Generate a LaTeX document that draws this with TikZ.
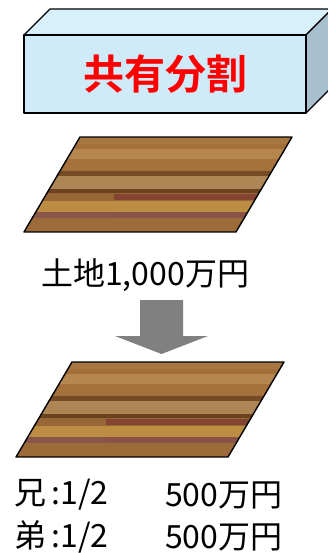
\documentclass[tikz,border=0pt]{standalone}
\usepackage{fontspec}
\setmainfont{Noto Sans CJK JP}
\newfontfamily\gothic{Noto Sans CJK JP}
\newfontfamily\gothicbold{Noto Sans CJK JP Bold}
\definecolor{boxfront}{HTML}{CFEBFA}
\definecolor{boxtop}{HTML}{D8F0FC}
\definecolor{boxside}{HTML}{A7BFCE}
\definecolor{woodbase}{HTML}{A3703C}
\definecolor{woodlight}{HTML}{B5874F}
\definecolor{woodtan}{HTML}{AE8656}
\definecolor{wooddark}{HTML}{6A4220}
\definecolor{woodred}{HTML}{7E3D30}
\definecolor{woodgold}{HTML}{BC8D42}
\definecolor{woodplum}{HTML}{8A564A}
\definecolor{arrowgray}{HTML}{808080}
\tikzset{
  >=latex,
  {box edge/.style} ={draw=black,line width=1.3pt,line join=round},
  {plank edge/.style} ={draw=black,line width=1.4pt,line join=round},
  {title/.style} ={text=red,font=\gothicbold\fontsize{41}{41}\selectfont,inner sep=0},
  {label/.style} ={text=black,font=\gothic\fontsize{32}{32}\selectfont,inner sep=0},
  % a board of wood seen from above, origin at its lower left corner
  plank/.pic={
    \begin{scope}
      \clip (0,0) -- (56,-95) -- (268,-95) -- (212,0) -- cycle;
      \fill[woodbase] (0,0) rectangle (268,-95);
      \foreach \a/\b/\col in {12/22/woodlight,22/32/woodbase!90!woodlight,
                              34/39/wooddark!80!woodbase,39/52/woodtan,
                              52/56/wooddark,56/64/woodbase!80!wooddark,
                              64/75/woodgold,75/81/woodplum,81/95/woodbase!88!wooddark}
        \fill[\col] (0,-95+\a) rectangle (268,-95+\b);
      \fill[woodred,opacity=.8] (90,-38) rectangle (268,-32);
      \fill[woodplum!80!woodred,opacity=.7] (90,-20) rectangle (268,-15);
      \fill[woodlight,opacity=.35] (0,-95) rectangle (268,-88);
    \end{scope}
    \draw[plank edge] (0,0) -- (56,-95) -- (268,-95) -- (212,0) -- cycle;
  },
}

\begin{document}
\begin{tikzpicture}[x=1pt,y=-1pt]
\useasboundingbox (0,0) rectangle (327,553);
% the box with the title
\path[box edge,fill=boxtop] (24,35) -- (50,9) -- (332,9) -- (306,35) -- cycle;
\path[box edge,fill=boxside] (306,35) -- (332,9) -- (332,87) -- (306,113) -- cycle;
\path[box edge,fill=boxfront] (24,35) rectangle (306,113);
\node[title] (bunkatsu) at (165,74) {共有分割};

% land before the split
\pic (land) at (24,232) {plank};
\node[label,anchor=west] (total) at (41,275) {土地1,000万円};

% block arrow
\fill[arrowgray] (140,300) -- (183,300) -- (183,336) -- (208,336)
  -- (161.5,354) -- (115,336) -- (140,336) -- cycle;

% land after the split
\pic (halves) at (16,457) {plank};
\node[label,anchor=west] (ani) at (14,495) {兄\,:1/2};
\node[label,anchor=west] (aniyen) at (165,495) {500万円};
\node[label,anchor=west] (otouto) at (14,537) {弟\,:1/2};
\node[label,anchor=west] (otoutoyen) at (165,537) {500万円};
\end{tikzpicture}
\end{document}
